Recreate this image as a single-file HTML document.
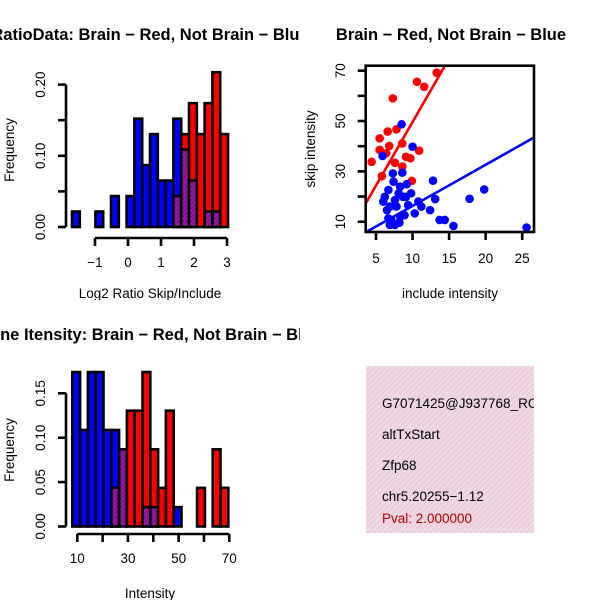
<!DOCTYPE html>
<html><head><meta charset="utf-8"><style>
html,body{margin:0;padding:0;background:#fff;}
svg{display:block;font-family:"Liberation Sans",sans-serif;}
</style></head><body>
<svg id="chart" width="600" height="600" viewBox="0 0 600 600" xmlns="http://www.w3.org/2000/svg">
<defs>
<clipPath id="cl"><rect x="0" y="0" width="300" height="300"/></clipPath>
<clipPath id="cb"><rect x="0" y="300" width="300" height="300"/></clipPath>
<clipPath id="ci"><rect x="366" y="366" width="168" height="167"/></clipPath>
<pattern id="hatch" width="4" height="4" patternUnits="userSpaceOnUse" patternTransform="rotate(45)">
<rect width="4" height="4" fill="#f6d3ee"/><rect width="1.3" height="4" fill="#dcd4c6"/></pattern>
<pattern id="ph" width="3" height="3" patternUnits="userSpaceOnUse" patternTransform="rotate(45)">
<rect width="3" height="3" fill="#9a1aa8"/><rect width="1" height="3" fill="#6a1080"/></pattern>
</defs>
<g id="p1" clip-path="url(#cl)"></g>
<g id="p2"></g>
<g id="p3" clip-path="url(#cb)"></g>
<g id="p4">
<rect x="366" y="366" width="168" height="167" fill="url(#hatch)"/>
<g clip-path="url(#ci)" font-size="13.5">
<text x="382" y="408">G7071425@J937768_RC</text>
<text x="382" y="439">altTxStart</text>
<text x="382" y="470">Zfp68</text>
<text x="382" y="501">chr5.20255−1.12</text>
<text x="382" y="523" fill="#b00000">Pval: 2.000000</text>
</g></g>
</svg>
<script>
// ---- Panel 1 data: log2 ratio histogram ----
const ratioBinStart = -1.697;
const ratioBinWidth = 0.2364;
const ratioBlue = [1,0,0,1,0,2,0,2,7,4,6,3,3,7,5,3,0,1,1,0];
const ratioRed  = [0,0,0,0,0,0,0,0,0,0,0,0,0,2,6,8,6,8,10,6];
const ratioTotal = 46;
const ratioXTicks = [-1,0,1,2,3];
const ratioYTicks = [0,0.05,0.1,0.15,0.2];
const ratioYLabels = ["0.00","","0.10","","0.20"];
// ---- Panel 3 data: intensity histogram ----
const intBinStart = 8.02;
const intBinWidth = 3.08;
const intBlue = [8,5,8,8,5,5,4,0,0,1,1,0,0,1,0,0,0,0,0,0];
const intRed  = [0,0,0,0,0,2,4,6,6,8,4,2,6,0,0,0,2,0,4,2];
const intTotal = 46;
const intXTicks = [10,20,30,40,50,60,70];
const intXLabels = ["10","","30","","50","","70"];
const intYTicks = [0,0.05,0.1,0.15];
const intYLabels = ["0.00","0.05","0.10","0.15"];
// ---- Panel 2 data: scatter ----
const redX = [4.4,5.5,5.5,5.8,6.6,6.8,7.3,7.6,7.8,8.6,8.6,9.1,9.7,9.9,10.6,10.9,11.6,13.3,6.4];
const redY = [33.8,43.1,38.5,28.1,45.8,40.1,59.0,33.4,46.7,41.1,31.9,35.8,35.2,26.2,65.6,38.2,63.6,69.2,37.2];
const blueX = [5.9,8.5,10.0,6.0,6.2,6.7,6.9,7.4,7.3,7.6,7.8,8.1,8.3,8.3,8.6,8.7,8.9,9.2,9.4,9.8,10.3,10.8,11.2,12.4,12.8,13.1,13.7,14.4,15.6,17.8,19.8,25.6,6.9,6.7,7.6,7.1,8.2,9.1,6.5];
const blueY = [36.1,48.7,39.8,18.0,19.9,11.3,8.7,25.9,29.2,8.7,16.0,21.3,23.9,12.0,29.5,19.9,12.6,24.9,16.6,21.3,13.3,18.0,16.0,14.6,26.3,19.0,10.7,10.7,8.3,19.1,22.8,7.7,16.0,22.6,18.6,10.7,9.6,19.9,14.6];
const redFit = [-0.9,5.05];   // intercept, slope
const blueFit = [-0.08,1.635];
const scXTicks = [5,10,15,20,25];
const scYTicks = [10,20,30,40,50,60,70];
const scYLabels = ["10","","30","","50","","70"];

const NS="http://www.w3.org/2000/svg";
const FS=13.5, TFS=16.5;
function el(parent,tag,attrs,text){const e=document.createElementNS(NS,tag);for(const k in attrs)e.setAttribute(k,attrs[k]);if(text!==undefined)e.textContent=text;parent.appendChild(e);return e;}

function histogram(g,o){
  const {binStart,binWidth,blue,red,total,xs,ys,xTicks,xLabels,yTicks,yLabels,axisY,title,titleY,xlab,xlabY,ylabY}=o;
  for(let i=0;i<blue.length;i++){
    const b=blue[i]/total,r=red[i]/total;
    const x0=xs(binStart+i*binWidth),x1=xs(binStart+(i+1)*binWidth);
    const mx=Math.max(b,r),mn=Math.min(b,r);
    if(mx>0){
      const c=(b===r)?"url(#ph)":(r>b?"#ff0000":"#0000ff");
      const rc=el(g,"rect",{x:x0,y:ys(mx),width:x1-x0,height:ys(0)-ys(mx),fill:c,stroke:"#000","stroke-width":2.6});
      
      
    }
    if(mn>0&&b!==r){
      const rc=el(g,"rect",{x:x0,y:ys(mn),width:x1-x0,height:ys(0)-ys(mn),fill:"url(#ph)",stroke:"#000","stroke-width":2.6});
      
      
    }
  }
  const ya=el(g,"line",{x1:66,x2:66,y1:ys(yTicks[0]),y2:ys(yTicks[yTicks.length-1]),stroke:"#000","stroke-width":2.6});
  
  yTicks.forEach((t,i)=>{
    el(g,"line",{x1:58,x2:66,y1:ys(t),y2:ys(t),stroke:"#000","stroke-width":2.6});
    if(yLabels[i]){const tx=el(g,"text",{x:0,y:0,"font-size":FS,"text-anchor":"middle",transform:`translate(45,${ys(t)}) rotate(-90)`},yLabels[i]);
      }
  });
  const xa=el(g,"line",{x1:xs(xTicks[0]),x2:xs(xTicks[xTicks.length-1]),y1:axisY,y2:axisY,stroke:"#000","stroke-width":2.6});
  
  xTicks.forEach((t,i)=>{
    el(g,"line",{x1:xs(t),x2:xs(t),y1:axisY,y2:axisY+8,stroke:"#000","stroke-width":2.6});
    if(xLabels[i]){const tx=el(g,"text",{x:xs(t),y:axisY+29,"font-size":FS,"text-anchor":"middle"},xLabels[i]);
      }
  });
  const tt=el(g,"text",{x:150,y:titleY,"font-size":TFS,"font-weight":"bold","text-anchor":"middle"},title);
  
  const xl=el(g,"text",{x:150,y:xlabY,"font-size":FS,"text-anchor":"middle"},xlab);
  
  const yl=el(g,"text",{x:0,y:0,"font-size":FS,"text-anchor":"middle",transform:`translate(14,${ylabY}) rotate(-90)`},"Frequency");
  
}

histogram(document.getElementById('p1'),{
  binStart:ratioBinStart,binWidth:ratioBinWidth,blue:ratioBlue,red:ratioRed,total:ratioTotal,
  xs:v=>128+33*v, ys:v=>227-712*v,
  xTicks:ratioXTicks,xLabels:ratioXTicks.map(String).map(s=>s.replace('-','−')),yTicks:ratioYTicks,yLabels:ratioYLabels,
  axisY:238,title:"RatioData: Brain − Red, Not Brain − Blue",titleY:40,xlab:"Log2 Ratio Skip/Include",xlabY:298,ylabY:150});
histogram(document.getElementById('p3'),{
  binStart:intBinStart,binWidth:intBinWidth,blue:intBlue,red:intRed,total:intTotal,
  xs:v=>77.3+2.533*(v-10), ys:v=>526.5-888*v,
  xTicks:intXTicks,xLabels:intXLabels,yTicks:intYTicks,yLabels:intYLabels,
  axisY:534,title:"Gene Itensity: Brain − Red, Not Brain − Blue",titleY:340,xlab:"Intensity",xlabY:598,ylabY:450});

(function(){
  const g=document.getElementById('p2');
  const xs=v=>376+7.31*(v-5), ys=v=>221.7-2.517*(v-10);
  const L=365.7,R=534,T=65.7,B=232;
  const cp=el(g,"clipPath",{id:"cs"});el(cp,"rect",{x:L,y:T,width:R-L,height:B-T});
  const inner=el(g,"g",{"clip-path":"url(#cs)"});
  redX.forEach((x,i)=>{const c=el(inner,"circle",{cx:xs(x),cy:ys(redY[i]),r:4.3,fill:"#ff0000"});
    });
  blueX.forEach((x,i)=>{const c=el(inner,"circle",{cx:xs(x),cy:ys(blueY[i]),r:4.3,fill:"#0000ff"});
    });
  const x0=3,x1=28;
  const rl=el(inner,"line",{x1:xs(x0),y1:ys(redFit[0]+redFit[1]*x0),x2:xs(x1),y2:ys(redFit[0]+redFit[1]*x1),stroke:"#ff0000","stroke-width":2.6});
  
  const bl=el(inner,"line",{x1:xs(x0),y1:ys(blueFit[0]+blueFit[1]*x0),x2:xs(x1),y2:ys(blueFit[0]+blueFit[1]*x1),stroke:"#0000ff","stroke-width":2.6});
  
  const bx=el(g,"rect",{x:L,y:T,width:R-L,height:B-T,fill:"none",stroke:"#000","stroke-width":2.6});
  
  scXTicks.forEach(t=>{el(g,"line",{x1:xs(t),x2:xs(t),y1:B,y2:B+8,stroke:"#000","stroke-width":2.6});
    const tx=el(g,"text",{x:xs(t),y:B+31,"font-size":FS,"text-anchor":"middle"},String(t));
    });
  scYTicks.forEach((t,i)=>{el(g,"line",{x1:L-8,x2:L,y1:ys(t),y2:ys(t),stroke:"#000","stroke-width":2.6});
    if(scYLabels[i]){const tx=el(g,"text",{x:0,y:0,"font-size":FS,"text-anchor":"middle",transform:`translate(345,${ys(t)}) rotate(-90)`},scYLabels[i]);
      }});
  const tt=el(g,"text",{x:451,y:40,"font-size":TFS,"font-weight":"bold","text-anchor":"middle"},"Brain − Red, Not Brain − Blue");
  
  const xl=el(g,"text",{x:450,y:298,"font-size":FS,"text-anchor":"middle"},"include intensity");
  
  const yl=el(g,"text",{x:0,y:0,"font-size":FS,"text-anchor":"middle",transform:`translate(315,149) rotate(-90)`},"skip intensity");
  
})();
</script>
</body></html>
